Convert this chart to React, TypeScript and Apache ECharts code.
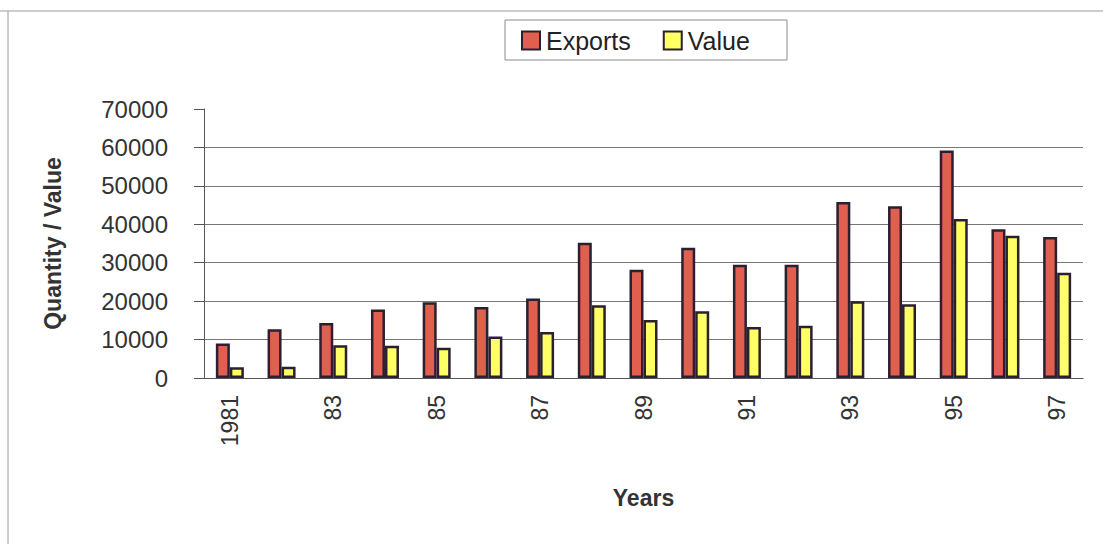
import React, { useEffect, useRef } from "react";
import * as echarts from "echarts";

const years = ["1981", "82", "83", "84", "85", "86", "87", "88", "89", "90", "91", "92", "93", "94", "95", "96", "97"];
const exportsData = [9000, 12700, 14300, 17800, 19700, 18500, 20700, 35200, 28200, 33900, 29500, 29500, 45800, 44700, 59200, 38700, 36700];
const valueData = [2800, 2900, 8500, 8400, 7900, 10800, 12000, 18900, 15100, 17400, 13300, 13600, 20000, 19200, 41400, 37000, 27400];
const seriesNames = ["Exports", "Value"];
const yTicks = { min: 0, max: 70000, interval: 10000 };

const FONT = "Liberation Sans, Arial, sans-serif";

export default function App() {
  const ref = useRef<HTMLDivElement>(null);
  useEffect(() => {
    if (!ref.current) return;
    const chart = echarts.init(ref.current, null, { renderer: "svg" });
    chart.setOption({
      animation: false,
      backgroundColor: "#ffffff",
      textStyle: { fontFamily: FONT },
      graphic: [
        { type: "line", shape: { x1: 0, y1: 11, x2: 1103, y2: 11 }, style: { stroke: "#9a9a9a", lineWidth: 1 } },
        { type: "line", shape: { x1: 8, y1: 11, x2: 8, y2: 544 }, style: { stroke: "#9a9a9a", lineWidth: 1 } },
        { type: "rect", shape: { x: 505, y: 20, width: 282, height: 40 }, style: { fill: "none", stroke: "#8a8a8a", lineWidth: 1 } },
      ],
      legend: {
        data: seriesNames.map((n) => ({ name: n, icon: "rect" })),
        left: 516,
        top: 23,
        itemWidth: 18,
        itemHeight: 18,
        itemGap: 32,
        textStyle: { fontSize: 25, color: "#222", fontFamily: FONT, padding: [0, 0, 0, 1] },
      },
      grid: { left: 204, right: 20, top: 109, bottom: 166 },
      xAxis: {
        type: "category",
        data: years,
        name: "Years",
        nameLocation: "middle",
        nameGap: 108,
        nameTextStyle: { fontSize: 23, fontWeight: "bold", color: "#333", fontFamily: FONT },
        axisLine: { lineStyle: { color: "#555", width: 1 } },
        axisTick: { show: false },
        axisLabel: { interval: 1, rotate: 90, fontSize: 23, color: "#333", margin: 17, fontFamily: FONT },
      },
      yAxis: {
        type: "value",
        min: yTicks.min,
        max: yTicks.max,
        interval: yTicks.interval,
        name: "Quantity / Value",
        nameLocation: "middle",
        nameGap: 140,
        nameTextStyle: { fontSize: 23, fontWeight: "bold", color: "#333", fontFamily: FONT },
        axisLine: { show: true, lineStyle: { color: "#555", width: 1 } },
        axisTick: { show: true, length: 10, lineStyle: { color: "#555" } },
        axisLabel: { fontSize: 24, color: "#333", margin: 36, fontFamily: FONT, formatter: (v: number) => String(v) },
        splitLine: {
          show: true,
          showMaxLine: false,
          lineStyle: { color: "#777", width: 1 },
        },
      },
      series: [
        {
          name: seriesNames[0],
          type: "bar",
          data: exportsData,
          barWidth: 14,
          barGap: "0%",
          itemStyle: { color: "#e05f4e", borderColor: "#2b2030", borderWidth: 2.5 },
        },
        {
          name: seriesNames[1],
          type: "bar",
          data: valueData,
          barWidth: 14,
          barGap: "0%",
          itemStyle: { color: "#ffff66", borderColor: "#2b2030", borderWidth: 2.5 },
        },
      ],
    });
    return () => chart.dispose();
  }, []);
  return <div ref={ref} style={{ width: 1103, height: 544, position: "absolute", left: 0, top: 0 }} />;
}
